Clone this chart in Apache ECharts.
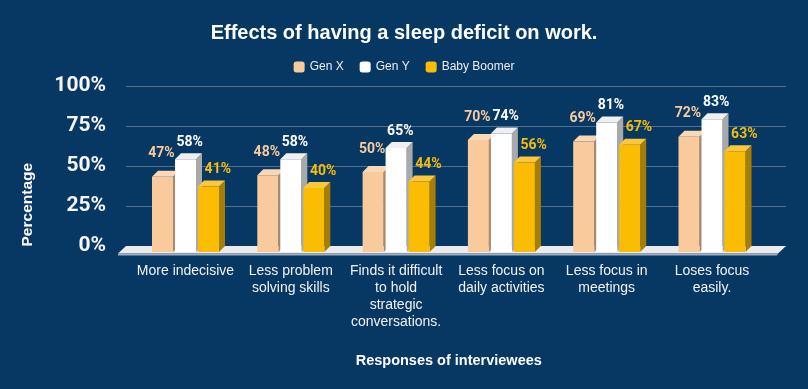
<!DOCTYPE html>
<html><head><meta charset="utf-8">
<script src="https://cdn.jsdelivr.net/npm/echarts@6/dist/echarts.min.js"></script>
<style>html,body{margin:0;padding:0;background:#073763}#c{width:808px;height:389px}</style>
</head><body><div id="c"></div>
<script>
const categories = ['More indecisive', 'Less problem\nsolving skills', 'Finds it difficult\nto hold\nstrategic\nconversations.', 'Less focus on\ndaily activities', 'Less focus in\nmeetings', 'Loses focus\neasily.'];
const seriesNames = ['Gen X', 'Gen Y', 'Baby Boomer'];
const genX = [47, 48, 50, 70, 69, 72];
const genY = [58, 58, 65, 74, 81, 83];
const babyBoomer = [41, 40, 44, 56, 67, 63];
const yMin = 0, yMax = 100, yStep = 25;

const faces = [
  {front: '#f9cb9c', top: '#fbd8b4', side: '#a88a6b', label: '#f9cb9c', ldx: -1, ldy: 17},
  {front: '#ffffff', top: '#f0f0f0', side: '#a9a9a9', label: '#ffffff', ldx: 4.2, ldy: 11},
  {front: '#fbbc04', top: '#fcc839', side: '#a77e04', label: '#fbbc04', ldx: 9.3, ldy: 11}
];
const FONT = '"Liberation Sans", Arial, sans-serif';

function makeRender(s) {
  return function (params, api) {
    const cat = api.value(0), v = api.value(1);
    const top = api.coord([cat, v]);
    const base = api.coord([cat, 0]);
    const band = api.size([1, 0])[0];
    const pitch = band * 23 / 105.3;
    const w = band * 21 / 105.3;
    const D = 6;
    const cx = top[0] + (s - 1) * pitch;
    const x0 = cx - w / 2, x1 = cx + w / 2;
    const yb = top[1], y0 = base[1];
    const f = faces[s];
    return {
      type: 'group',
      children: [
        {type: 'polygon', z2: s * 10 + 1, shape: {points: [[x1, yb + D], [x1 + D, yb], [x1 + D, y0], [x1, y0 + D]]}, style: {fill: f.side}},
        {type: 'polygon', z2: s * 10 + 2, shape: {points: [[x0, yb + D], [x1, yb + D], [x1 + D, yb], [x0 + D, yb]]}, style: {fill: f.top}},
        {type: 'rect', z2: s * 10 + 3, shape: {x: x0, y: yb + D, width: w, height: y0 - yb}, style: {fill: f.front}},
        {type: 'text', z2: 100, x: cx + f.ldx, y: yb - f.ldy,
          style: {text: v + '%', fill: f.label, font: 'bold 14px Roboto, sans-serif', align: 'center', verticalAlign: 'middle', textAlign: 'center', textVerticalAlign: 'middle'}}
      ]
    };
  };
}

function floorRender(params, api) {
  const p0 = api.coord([0, 0]);
  const p1 = api.coord([1, 0]);
  const y = p0[1];
  return {
    type: 'group',
    children: [
      {type: 'polygon', shape: {points: [[p0[0], y], [p1[0], y], [p1[0] - 8, y + 7.5], [p0[0] - 8, y + 7.5]]}, style: {fill: '#ebebeb'}},
      {type: 'polygon', shape: {points: [[p0[0] - 8, y + 7.5], [p1[0] - 8, y + 7.5], [p1[0] - 9, y + 9.5], [p0[0] - 8, y + 9.5]]}, style: {fill: '#9fadbd'}}
    ]
  };
}

const seriesData = [genX, genY, babyBoomer];
const series = [{
  type: 'custom', name: 'floor', xAxisIndex: 0, yAxisIndex: 0, z: 1, silent: true,
  renderItem: floorRender, data: [[0, 0]], clip: false
}];
seriesData.forEach((arr, s) => {
  series.push({
    type: 'custom', name: seriesNames[s], xAxisIndex: 1, yAxisIndex: 1, z: 2, clip: false,
    itemStyle: {color: faces[s].front},
    renderItem: makeRender(s),
    data: arr.map((v, i) => [i, v])
  });
});

const chart = echarts.init(document.getElementById('c'));
chart.setOption({
  backgroundColor: '#073763',
  animation: false,
  textStyle: {fontFamily: FONT},
  title: {
    text: 'Effects of having a sleep deficit on work.', left: 'center', top: 18,
    textStyle: {color: '#ffffff', fontSize: 20, fontWeight: 'bold', fontFamily: FONT}
  },
  legend: {
    data: seriesNames, top: 56, left: 'center', itemWidth: 11, itemHeight: 11, itemGap: 16, icon: 'roundRect',
    textStyle: {color: '#eeeeee', fontSize: 12, fontFamily: FONT}
  },
  grid: [
    {left: 126, right: 22, top: 86, bottom: 143},
    {left: 132.85, right: 43.35, top: 86, bottom: 143}
  ],
  xAxis: [
    {type: 'value', gridIndex: 0, min: 0, max: 1, show: false},
    {type: 'category', gridIndex: 1, data: categories,
      axisLine: {show: false}, axisTick: {show: false},
      axisLabel: {interval: 0, color: '#f2f2f2', fontSize: 14, lineHeight: 17, margin: 17, fontFamily: FONT},
      name: 'Responses of interviewees', nameLocation: 'middle', nameGap: 107,
      nameTextStyle: {color: '#ffffff', fontSize: 14.5, fontWeight: 'bold', fontFamily: FONT}}
  ],
  yAxis: [
    {type: 'value', gridIndex: 0, min: yMin, max: yMax, interval: yStep,
      axisLine: {show: false}, axisTick: {show: false},
      axisLabel: {formatter: '{value}%', color: '#f5f5f5', fontSize: 21, fontWeight: 'bold', fontFamily: 'Roboto, sans-serif', margin: 20},
      splitLine: {lineStyle: {color: '#52728f', width: 1}}},
    {type: 'value', gridIndex: 1, min: yMin, max: yMax, interval: yStep, show: false}
  ],
  graphic: [{
    type: 'text', x: 28, y: 204.7, rotation: Math.PI / 2,
    style: {text: 'Percentage', fill: '#ffffff', font: 'bold 15.5px "Liberation Sans", Arial, sans-serif',
      align: 'center', verticalAlign: 'middle', textAlign: 'center', textVerticalAlign: 'middle'}
  }],
  series: series
});
</script></body></html>
